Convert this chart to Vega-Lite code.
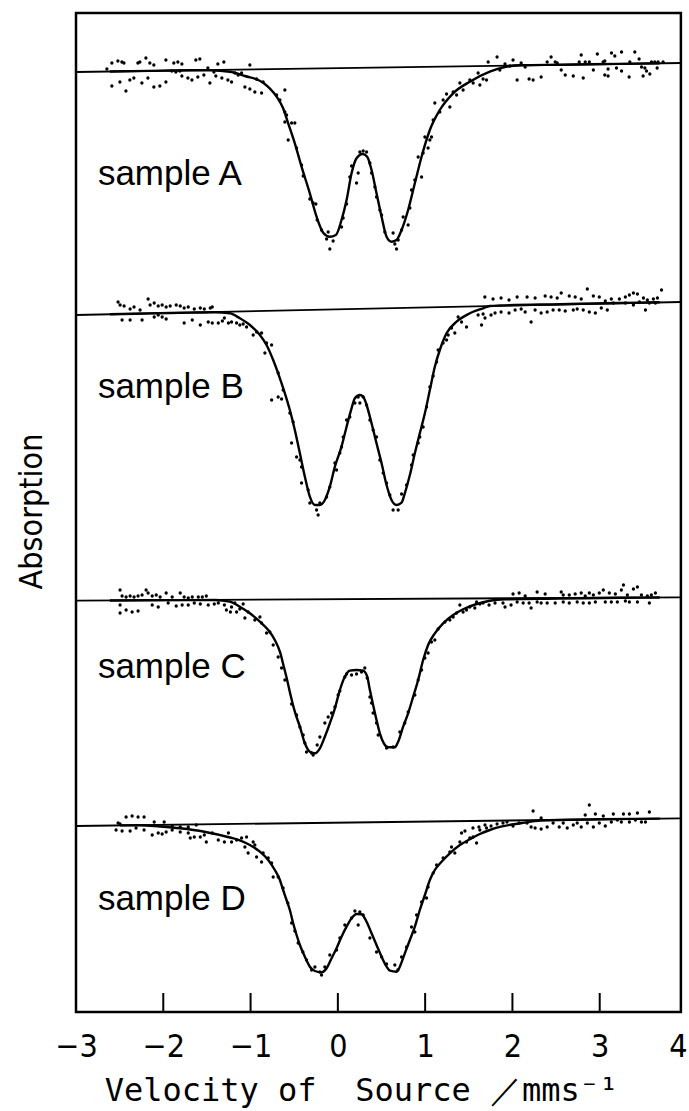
{
"$schema":"https://vega.github.io/schema/vega-lite/v6.json",
"width":611,"height":999,
"autosize":{"type":"none"},
"padding":{"left":76,"top":13,"right":2,"bottom":99},
"background":"white",
"config":{"view":{"stroke":null}},
"datasets":{
"ticks":[{"vel":-2},{"vel":-1},{"vel":0},{"vel":1},{"vel":2},{"vel":3}],
"base":[
{"sample":"A","vel":-3,"abs":5.9},{"sample":"A","vel":3.93,"abs":5.0},
{"sample":"B","vel":-3,"abs":30.2},{"sample":"B","vel":3.93,"abs":28.9},
{"sample":"C","vel":-3,"abs":58.77},{"sample":"C","vel":3.93,"abs":58.43},
{"sample":"D","vel":-3,"abs":81.3},{"sample":"D","vel":3.93,"abs":80.53}],
"labels":[
{"text":"sample A","vel":-2.749,"abs":17.2},
{"text":"sample B","vel":-2.749,"abs":38.5},
{"text":"sample C","vel":-2.749,"abs":66.5},
{"text":"sample D","vel":-2.749,"abs":89.7}],
"fit":[
{"sample":"A","vel":-2.612,"abs":5.85},{"sample":"A","vel":-2.154,"abs":5.79},{"sample":"A","vel":-1.695,"abs":5.73},{"sample":"A","vel":-1.466,"abs":5.74},{"sample":"A","vel":-1.237,"abs":5.87},{"sample":"A","vel":-1.065,"abs":6.30},{"sample":"A","vel":-0.856,"abs":6.97},{"sample":"A","vel":-0.702,"abs":8.37},{"sample":"A","vel":-0.627,"abs":9.53},{"sample":"A","vel":-0.569,"abs":11.03},{"sample":"A","vel":-0.493,"abs":13.03},{"sample":"A","vel":-0.416,"abs":15.37},{"sample":"A","vel":-0.321,"abs":18.03},{"sample":"A","vel":-0.244,"abs":20.37},{"sample":"A","vel":-0.168,"abs":21.97},{"sample":"A","vel":-0.092,"abs":22.37},{"sample":"A","vel":-0.023,"abs":22.2},{"sample":"A","vel":0.042,"abs":20.7},{"sample":"A","vel":0.100,"abs":18.7},{"sample":"A","vel":0.157,"abs":16.03},{"sample":"A","vel":0.214,"abs":14.53},{"sample":"A","vel":0.283,"abs":14.1},{"sample":"A","vel":0.336,"abs":14.37},{"sample":"A","vel":0.386,"abs":15.7},{"sample":"A","vel":0.443,"abs":18.03},{"sample":"A","vel":0.501,"abs":20.37},{"sample":"A","vel":0.558,"abs":22.37},{"sample":"A","vel":0.615,"abs":22.87},{"sample":"A","vel":0.672,"abs":22.7},{"sample":"A","vel":0.730,"abs":21.7},{"sample":"A","vel":0.805,"abs":19.7},{"sample":"A","vel":0.882,"abs":17.03},{"sample":"A","vel":0.959,"abs":14.37},{"sample":"A","vel":1.054,"abs":11.7},{"sample":"A","vel":1.168,"abs":9.7},{"sample":"A","vel":1.321,"abs":8.03},{"sample":"A","vel":1.512,"abs":6.87},{"sample":"A","vel":1.741,"abs":5.87},{"sample":"A","vel":1.913,"abs":5.4},{"sample":"A","vel":2.085,"abs":5.23},{"sample":"A","vel":2.543,"abs":5.17},{"sample":"A","vel":3.230,"abs":5.09},{"sample":"A","vel":3.688,"abs":5.03},
{"sample":"B","vel":-2.612,"abs":30.13},{"sample":"B","vel":-2.154,"abs":30.04},{"sample":"B","vel":-1.695,"abs":29.96},{"sample":"B","vel":-1.409,"abs":29.92},{"sample":"B","vel":-1.237,"abs":30.03},{"sample":"B","vel":-1.123,"abs":30.53},{"sample":"B","vel":-1.008,"abs":31.2},{"sample":"B","vel":-0.893,"abs":32.2},{"sample":"B","vel":-0.817,"abs":33.2},{"sample":"B","vel":-0.741,"abs":34.7},{"sample":"B","vel":-0.664,"abs":36.53},{"sample":"B","vel":-0.607,"abs":38.03},{"sample":"B","vel":-0.550,"abs":39.7},{"sample":"B","vel":-0.493,"abs":41.7},{"sample":"B","vel":-0.435,"abs":44.03},{"sample":"B","vel":-0.378,"abs":46.37},{"sample":"B","vel":-0.321,"abs":48.37},{"sample":"B","vel":-0.263,"abs":49.2},{"sample":"B","vel":-0.206,"abs":49.2},{"sample":"B","vel":-0.149,"abs":48.7},{"sample":"B","vel":-0.092,"abs":47.37},{"sample":"B","vel":-0.034,"abs":45.37},{"sample":"B","vel":0.042,"abs":43.37},{"sample":"B","vel":0.100,"abs":41.37},{"sample":"B","vel":0.157,"abs":39.53},{"sample":"B","vel":0.195,"abs":38.53},{"sample":"B","vel":0.252,"abs":38.2},{"sample":"B","vel":0.290,"abs":38.37},{"sample":"B","vel":0.329,"abs":39.2},{"sample":"B","vel":0.386,"abs":41.03},{"sample":"B","vel":0.443,"abs":43.03},{"sample":"B","vel":0.501,"abs":45.03},{"sample":"B","vel":0.558,"abs":47.2},{"sample":"B","vel":0.615,"abs":48.7},{"sample":"B","vel":0.672,"abs":49.2},{"sample":"B","vel":0.730,"abs":48.97},{"sample":"B","vel":0.767,"abs":48.03},{"sample":"B","vel":0.825,"abs":46.2},{"sample":"B","vel":0.882,"abs":44.03},{"sample":"B","vel":0.939,"abs":42.03},{"sample":"B","vel":0.997,"abs":40.03},{"sample":"B","vel":1.054,"abs":37.7},{"sample":"B","vel":1.111,"abs":35.37},{"sample":"B","vel":1.168,"abs":33.7},{"sample":"B","vel":1.245,"abs":32.03},{"sample":"B","vel":1.360,"abs":30.87},{"sample":"B","vel":1.512,"abs":30.03},{"sample":"B","vel":1.664,"abs":29.53},{"sample":"B","vel":1.741,"abs":29.3},{"sample":"B","vel":1.856,"abs":29.25},{"sample":"B","vel":2.543,"abs":29.12},{"sample":"B","vel":3.230,"abs":29.0},{"sample":"B","vel":3.688,"abs":28.92},
{"sample":"C","vel":-2.612,"abs":58.75},{"sample":"C","vel":-2.154,"abs":58.73},{"sample":"C","vel":-1.695,"abs":58.71},{"sample":"C","vel":-1.409,"abs":58.7},{"sample":"C","vel":-1.237,"abs":58.87},{"sample":"C","vel":-1.123,"abs":59.37},{"sample":"C","vel":-1.008,"abs":60.03},{"sample":"C","vel":-0.893,"abs":60.87},{"sample":"C","vel":-0.798,"abs":61.7},{"sample":"C","vel":-0.722,"abs":62.7},{"sample":"C","vel":-0.664,"abs":63.87},{"sample":"C","vel":-0.619,"abs":65.37},{"sample":"C","vel":-0.581,"abs":66.7},{"sample":"C","vel":-0.542,"abs":68.2},{"sample":"C","vel":-0.493,"abs":69.87},{"sample":"C","vel":-0.435,"abs":71.37},{"sample":"C","vel":-0.378,"abs":73.03},{"sample":"C","vel":-0.321,"abs":73.87},{"sample":"C","vel":-0.263,"abs":74.03},{"sample":"C","vel":-0.206,"abs":73.53},{"sample":"C","vel":-0.149,"abs":72.37},{"sample":"C","vel":-0.092,"abs":71.03},{"sample":"C","vel":-0.034,"abs":69.53},{"sample":"C","vel":0.023,"abs":67.7},{"sample":"C","vel":0.080,"abs":66.37},{"sample":"C","vel":0.137,"abs":65.77},{"sample":"C","vel":0.214,"abs":65.7},{"sample":"C","vel":0.290,"abs":65.77},{"sample":"C","vel":0.336,"abs":66.37},{"sample":"C","vel":0.367,"abs":67.7},{"sample":"C","vel":0.404,"abs":69.2},{"sample":"C","vel":0.443,"abs":70.7},{"sample":"C","vel":0.481,"abs":72.03},{"sample":"C","vel":0.527,"abs":73.03},{"sample":"C","vel":0.576,"abs":73.43},{"sample":"C","vel":0.653,"abs":73.43},{"sample":"C","vel":0.691,"abs":72.87},{"sample":"C","vel":0.748,"abs":71.37},{"sample":"C","vel":0.805,"abs":70.03},{"sample":"C","vel":0.863,"abs":68.37},{"sample":"C","vel":0.920,"abs":66.7},{"sample":"C","vel":0.977,"abs":64.7},{"sample":"C","vel":1.034,"abs":63.2},{"sample":"C","vel":1.111,"abs":62.03},{"sample":"C","vel":1.206,"abs":61.03},{"sample":"C","vel":1.321,"abs":60.2},{"sample":"C","vel":1.435,"abs":59.63},{"sample":"C","vel":1.589,"abs":59.1},{"sample":"C","vel":1.741,"abs":58.77},{"sample":"C","vel":1.913,"abs":58.63},{"sample":"C","vel":2.543,"abs":58.56},{"sample":"C","vel":3.230,"abs":58.48},{"sample":"C","vel":3.688,"abs":58.45},
{"sample":"D","vel":-2.497,"abs":81.24},{"sample":"D","vel":-2.268,"abs":81.22},{"sample":"D","vel":-2.039,"abs":81.35},{"sample":"D","vel":-1.806,"abs":81.53},{"sample":"D","vel":-1.530,"abs":81.87},{"sample":"D","vel":-1.237,"abs":82.45},{"sample":"D","vel":-1.123,"abs":82.73},{"sample":"D","vel":-1.008,"abs":83.2},{"sample":"D","vel":-0.893,"abs":83.87},{"sample":"D","vel":-0.798,"abs":84.7},{"sample":"D","vel":-0.722,"abs":85.7},{"sample":"D","vel":-0.664,"abs":86.7},{"sample":"D","vel":-0.627,"abs":87.7},{"sample":"D","vel":-0.588,"abs":88.7},{"sample":"D","vel":-0.550,"abs":89.7},{"sample":"D","vel":-0.512,"abs":91.03},{"sample":"D","vel":-0.473,"abs":92.2},{"sample":"D","vel":-0.435,"abs":93.2},{"sample":"D","vel":-0.378,"abs":94.37},{"sample":"D","vel":-0.321,"abs":95.37},{"sample":"D","vel":-0.263,"abs":95.8},{"sample":"D","vel":-0.187,"abs":95.93},{"sample":"D","vel":-0.129,"abs":95.53},{"sample":"D","vel":-0.072,"abs":94.53},{"sample":"D","vel":-0.015,"abs":93.53},{"sample":"D","vel":0.042,"abs":92.37},{"sample":"D","vel":0.100,"abs":91.37},{"sample":"D","vel":0.157,"abs":90.53},{"sample":"D","vel":0.214,"abs":90.1},{"sample":"D","vel":0.271,"abs":90.13},{"sample":"D","vel":0.329,"abs":90.87},{"sample":"D","vel":0.386,"abs":92.03},{"sample":"D","vel":0.443,"abs":93.2},{"sample":"D","vel":0.501,"abs":94.37},{"sample":"D","vel":0.558,"abs":95.37},{"sample":"D","vel":0.596,"abs":95.77},{"sample":"D","vel":0.672,"abs":95.87},{"sample":"D","vel":0.710,"abs":95.37},{"sample":"D","vel":0.767,"abs":94.03},{"sample":"D","vel":0.825,"abs":92.7},{"sample":"D","vel":0.882,"abs":91.37},{"sample":"D","vel":0.939,"abs":89.7},{"sample":"D","vel":0.997,"abs":88.2},{"sample":"D","vel":1.054,"abs":86.7},{"sample":"D","vel":1.111,"abs":85.7},{"sample":"D","vel":1.188,"abs":84.87},{"sample":"D","vel":1.283,"abs":84.03},{"sample":"D","vel":1.398,"abs":83.2},{"sample":"D","vel":1.512,"abs":82.63},{"sample":"D","vel":1.627,"abs":82.1},{"sample":"D","vel":1.741,"abs":81.7},{"sample":"D","vel":1.867,"abs":81.37},{"sample":"D","vel":2.096,"abs":81.03},{"sample":"D","vel":2.325,"abs":80.75},{"sample":"D","vel":3.001,"abs":80.63},{"sample":"D","vel":3.688,"abs":80.56}],
"obs":[
{"sample":"A","vel":-2.589,"abs":5.0},{"sample":"A","vel":-2.520,"abs":4.8},{"sample":"A","vel":-2.474,"abs":4.9},{"sample":"A","vel":-2.451,"abs":5.0},{"sample":"A","vel":-2.291,"abs":5.0},{"sample":"A","vel":-2.268,"abs":4.9},{"sample":"A","vel":-2.199,"abs":4.5},{"sample":"A","vel":-2.154,"abs":5.0},{"sample":"A","vel":-2.108,"abs":5.2},{"sample":"A","vel":-1.970,"abs":4.7},{"sample":"A","vel":-1.879,"abs":5.0},{"sample":"A","vel":-1.833,"abs":4.9},{"sample":"A","vel":-1.787,"abs":5.1},{"sample":"A","vel":-1.627,"abs":4.7},{"sample":"A","vel":-1.581,"abs":4.6},{"sample":"A","vel":-1.375,"abs":5.1},{"sample":"A","vel":-1.306,"abs":4.9},{"sample":"A","vel":-1.008,"abs":5.2},
{"sample":"A","vel":-2.646,"abs":5.6},{"sample":"A","vel":-1.902,"abs":5.8},{"sample":"A","vel":-1.856,"abs":5.9},{"sample":"A","vel":-1.810,"abs":5.8},{"sample":"A","vel":-1.489,"abs":5.5},{"sample":"A","vel":-1.420,"abs":5.9},
{"sample":"A","vel":-2.589,"abs":7.3},{"sample":"A","vel":-2.497,"abs":6.9},{"sample":"A","vel":-2.428,"abs":7.8},{"sample":"A","vel":-2.383,"abs":6.7},{"sample":"A","vel":-2.337,"abs":6.5},{"sample":"A","vel":-2.245,"abs":7.0},{"sample":"A","vel":-2.176,"abs":6.5},{"sample":"A","vel":-2.108,"abs":7.4},{"sample":"A","vel":-2.039,"abs":7.3},{"sample":"A","vel":-1.970,"abs":6.9},{"sample":"A","vel":-1.787,"abs":6.3},{"sample":"A","vel":-1.718,"abs":6.5},{"sample":"A","vel":-1.672,"abs":6.7},{"sample":"A","vel":-1.604,"abs":6.4},{"sample":"A","vel":-1.535,"abs":6.2},{"sample":"A","vel":-1.466,"abs":7.0},{"sample":"A","vel":-1.398,"abs":6.3},{"sample":"A","vel":-1.329,"abs":6.5},{"sample":"A","vel":-1.260,"abs":6.7},
{"sample":"A","vel":-1.218,"abs":6.9},{"sample":"A","vel":-1.180,"abs":6.0},{"sample":"A","vel":-1.142,"abs":6.2},{"sample":"A","vel":-1.103,"abs":6.0},{"sample":"A","vel":-1.065,"abs":7.4},{"sample":"A","vel":-1.008,"abs":7.6},{"sample":"A","vel":-0.951,"abs":7.9},{"sample":"A","vel":-0.931,"abs":6.6},{"sample":"A","vel":-0.874,"abs":8.0},{"sample":"A","vel":-0.856,"abs":6.9},{"sample":"A","vel":-0.702,"abs":8.2},{"sample":"A","vel":-0.664,"abs":8.7},{"sample":"A","vel":-0.607,"abs":7.7},{"sample":"A","vel":-0.607,"abs":9.9},{"sample":"A","vel":-0.588,"abs":10.2},{"sample":"A","vel":-0.607,"abs":10.9},{"sample":"A","vel":-0.530,"abs":11.0},{"sample":"A","vel":-0.493,"abs":11.0},{"sample":"A","vel":-0.569,"abs":12.7},{"sample":"A","vel":-0.473,"abs":13.5},{"sample":"A","vel":-0.416,"abs":15.2},{"sample":"A","vel":-0.397,"abs":16.3},{"sample":"A","vel":-0.321,"abs":18.6},{"sample":"A","vel":-0.283,"abs":19.0},{"sample":"A","vel":-0.252,"abs":19.1},{"sample":"A","vel":-0.237,"abs":20.7},{"sample":"A","vel":-0.187,"abs":21.7},{"sample":"A","vel":-0.111,"abs":21.9},{"sample":"A","vel":-0.129,"abs":22.6},{"sample":"A","vel":-0.054,"abs":22.8},{"sample":"A","vel":-0.092,"abs":23.6},{"sample":"A","vel":0.042,"abs":21.4},{"sample":"A","vel":0.061,"abs":20.5},{"sample":"A","vel":0.100,"abs":19.1},{"sample":"A","vel":0.137,"abs":16.4},{"sample":"A","vel":0.157,"abs":15.3},{"sample":"A","vel":0.233,"abs":16.0},{"sample":"A","vel":0.214,"abs":17.0},{"sample":"A","vel":0.252,"abs":13.9},{"sample":"A","vel":0.290,"abs":13.8},{"sample":"A","vel":0.329,"abs":13.9},{"sample":"A","vel":0.367,"abs":15.0},{"sample":"A","vel":0.386,"abs":16.0},{"sample":"A","vel":0.424,"abs":17.4},{"sample":"A","vel":0.443,"abs":18.4},{"sample":"A","vel":0.481,"abs":19.7},{"sample":"A","vel":0.501,"abs":20.2},{"sample":"A","vel":0.538,"abs":21.9},{"sample":"A","vel":0.633,"abs":22.0},{"sample":"A","vel":0.653,"abs":23.1},{"sample":"A","vel":0.672,"abs":23.6},{"sample":"A","vel":0.691,"abs":22.7},{"sample":"A","vel":0.730,"abs":21.7},{"sample":"A","vel":0.748,"abs":20.4},{"sample":"A","vel":0.805,"abs":21.2},{"sample":"A","vel":0.825,"abs":19.5},{"sample":"A","vel":0.844,"abs":17.7},{"sample":"A","vel":0.882,"abs":16.7},{"sample":"A","vel":0.920,"abs":14.4},{"sample":"A","vel":0.959,"abs":16.4},{"sample":"A","vel":0.977,"abs":14.0},{"sample":"A","vel":0.997,"abs":12.4},{"sample":"A","vel":1.034,"abs":13.5},{"sample":"A","vel":1.054,"abs":12.7},{"sample":"A","vel":1.092,"abs":10.7},{"sample":"A","vel":1.073,"abs":12.4},{"sample":"A","vel":1.111,"abs":9.0},{"sample":"A","vel":1.168,"abs":9.9},{"sample":"A","vel":1.206,"abs":8.7},{"sample":"A","vel":1.245,"abs":8.1},{"sample":"A","vel":1.283,"abs":9.4},{"sample":"A","vel":1.321,"abs":7.9},{"sample":"A","vel":1.360,"abs":8.2},{"sample":"A","vel":1.398,"abs":7.0},{"sample":"A","vel":1.435,"abs":7.7},{"sample":"A","vel":1.512,"abs":6.7},{"sample":"A","vel":1.550,"abs":7.0},{"sample":"A","vel":1.607,"abs":6.0},{"sample":"A","vel":1.627,"abs":7.2},{"sample":"A","vel":1.664,"abs":6.6},{"sample":"A","vel":1.703,"abs":6.7},{"sample":"A","vel":1.722,"abs":4.9},
{"sample":"A","vel":1.856,"abs":5.7},{"sample":"A","vel":1.970,"abs":5.3},{"sample":"A","vel":1.824,"abs":4.4},{"sample":"A","vel":1.915,"abs":5.1},{"sample":"A","vel":2.007,"abs":4.7},{"sample":"A","vel":2.100,"abs":5.0},{"sample":"A","vel":2.146,"abs":5.4},{"sample":"A","vel":2.054,"abs":6.7},{"sample":"A","vel":2.191,"abs":6.6},{"sample":"A","vel":2.237,"abs":6.7},{"sample":"A","vel":2.329,"abs":6.4},{"sample":"A","vel":2.398,"abs":4.9},{"sample":"A","vel":2.443,"abs":4.4},{"sample":"A","vel":2.490,"abs":4.9},{"sample":"A","vel":2.513,"abs":5.0},{"sample":"A","vel":2.559,"abs":5.7},{"sample":"A","vel":2.605,"abs":6.2},{"sample":"A","vel":2.697,"abs":6.3},{"sample":"A","vel":2.765,"abs":4.9},{"sample":"A","vel":2.788,"abs":4.2},{"sample":"A","vel":2.811,"abs":6.5},{"sample":"A","vel":2.834,"abs":4.9},{"sample":"A","vel":2.881,"abs":4.9},{"sample":"A","vel":2.927,"abs":5.7},{"sample":"A","vel":2.973,"abs":4.1},
{"sample":"A","vel":3.135,"abs":4.0},{"sample":"A","vel":3.173,"abs":4.3},{"sample":"A","vel":3.250,"abs":3.9},{"sample":"A","vel":3.402,"abs":3.9},{"sample":"A","vel":3.451,"abs":4.6},{"sample":"A","vel":3.039,"abs":4.9},{"sample":"A","vel":3.058,"abs":4.8},{"sample":"A","vel":3.345,"abs":4.9},{"sample":"A","vel":3.593,"abs":4.9},{"sample":"A","vel":3.631,"abs":4.9},{"sample":"A","vel":3.669,"abs":4.9},{"sample":"A","vel":3.726,"abs":4.9},{"sample":"A","vel":3.096,"abs":5.6},{"sample":"A","vel":3.192,"abs":5.5},{"sample":"A","vel":3.250,"abs":5.8},{"sample":"A","vel":3.479,"abs":5.4},{"sample":"A","vel":3.517,"abs":5.5},{"sample":"A","vel":3.536,"abs":5.8},{"sample":"A","vel":3.658,"abs":5.5},{"sample":"A","vel":3.058,"abs":6.2},{"sample":"A","vel":3.096,"abs":6.3},{"sample":"A","vel":3.337,"abs":6.4},{"sample":"A","vel":3.497,"abs":6.3},{"sample":"A","vel":3.574,"abs":6.1},
{"sample":"B","vel":-2.518,"abs":28.9},{"sample":"B","vel":-2.495,"abs":29.2},{"sample":"B","vel":-2.449,"abs":29.3},{"sample":"B","vel":-2.380,"abs":29.6},{"sample":"B","vel":-2.335,"abs":29.4},{"sample":"B","vel":-2.266,"abs":29.7},{"sample":"B","vel":-2.174,"abs":28.6},{"sample":"B","vel":-2.151,"abs":29.2},{"sample":"B","vel":-2.104,"abs":29.0},{"sample":"B","vel":-2.058,"abs":29.3},{"sample":"B","vel":-2.013,"abs":29.2},{"sample":"B","vel":-1.967,"abs":29.4},{"sample":"B","vel":-1.921,"abs":29.3},{"sample":"B","vel":-1.852,"abs":29.2},{"sample":"B","vel":-1.806,"abs":29.3},{"sample":"B","vel":-1.761,"abs":29.5},{"sample":"B","vel":-1.714,"abs":29.4},{"sample":"B","vel":-1.645,"abs":29.6},{"sample":"B","vel":-1.576,"abs":29.5},{"sample":"B","vel":-1.530,"abs":29.6},{"sample":"B","vel":-1.462,"abs":29.5},{"sample":"B","vel":-1.439,"abs":29.4},
{"sample":"B","vel":-2.472,"abs":30.7},{"sample":"B","vel":-2.380,"abs":30.7},{"sample":"B","vel":-2.243,"abs":30.7},{"sample":"B","vel":-2.104,"abs":30.4},{"sample":"B","vel":-2.058,"abs":30.2},{"sample":"B","vel":-2.013,"abs":30.4},{"sample":"B","vel":-1.967,"abs":30.6},{"sample":"B","vel":-1.761,"abs":31.0},{"sample":"B","vel":-1.668,"abs":30.7},{"sample":"B","vel":-1.576,"abs":31.2},{"sample":"B","vel":-1.485,"abs":30.9},{"sample":"B","vel":-1.439,"abs":31.0},{"sample":"B","vel":-1.370,"abs":31.0},{"sample":"B","vel":-1.323,"abs":30.8},{"sample":"B","vel":-1.300,"abs":30.5},{"sample":"B","vel":-1.254,"abs":31.0},
{"sample":"B","vel":-1.218,"abs":30.9},{"sample":"B","vel":-1.160,"abs":31.0},{"sample":"B","vel":-1.123,"abs":31.2},{"sample":"B","vel":-1.085,"abs":31.1},{"sample":"B","vel":-1.046,"abs":31.4},{"sample":"B","vel":-0.970,"abs":32.2},{"sample":"B","vel":-0.931,"abs":31.9},{"sample":"B","vel":-0.874,"abs":32.0},{"sample":"B","vel":-0.836,"abs":34.0},{"sample":"B","vel":-0.817,"abs":33.0},{"sample":"B","vel":-0.759,"abs":33.2},{"sample":"B","vel":-0.684,"abs":36.0},{"sample":"B","vel":-0.627,"abs":37.7},{"sample":"B","vel":-0.550,"abs":40.0},{"sample":"B","vel":-0.512,"abs":40.9},{"sample":"B","vel":-0.530,"abs":43.0},{"sample":"B","vel":-0.473,"abs":44.4},{"sample":"B","vel":-0.435,"abs":44.7},{"sample":"B","vel":-0.416,"abs":45.4},{"sample":"B","vel":-0.416,"abs":47.0},{"sample":"B","vel":-0.340,"abs":47.7},{"sample":"B","vel":-0.321,"abs":49.0},{"sample":"B","vel":-0.244,"abs":49.7},{"sample":"B","vel":-0.226,"abs":50.2},{"sample":"B","vel":-0.206,"abs":49.0},{"sample":"B","vel":-0.129,"abs":48.4},{"sample":"B","vel":-0.092,"abs":47.4},{"sample":"B","vel":-0.034,"abs":45.0},{"sample":"B","vel":-0.015,"abs":45.7},{"sample":"B","vel":0.023,"abs":44.0},{"sample":"B","vel":0.042,"abs":43.4},{"sample":"B","vel":0.061,"abs":42.4},{"sample":"B","vel":0.100,"abs":40.7},{"sample":"B","vel":0.137,"abs":40.4},{"sample":"B","vel":0.195,"abs":39.0},{"sample":"B","vel":0.252,"abs":39.0},{"sample":"B","vel":0.233,"abs":38.4},{"sample":"B","vel":0.290,"abs":38.4},{"sample":"B","vel":0.329,"abs":39.2},{"sample":"B","vel":0.367,"abs":40.7},{"sample":"B","vel":0.404,"abs":41.7},{"sample":"B","vel":0.443,"abs":42.4},{"sample":"B","vel":0.481,"abs":44.7},{"sample":"B","vel":0.519,"abs":46.0},{"sample":"B","vel":0.558,"abs":47.0},{"sample":"B","vel":0.596,"abs":48.2},{"sample":"B","vel":0.633,"abs":49.7},{"sample":"B","vel":0.691,"abs":49.7},{"sample":"B","vel":0.730,"abs":48.1},{"sample":"B","vel":0.787,"abs":47.2},{"sample":"B","vel":0.844,"abs":45.2},{"sample":"B","vel":0.863,"abs":44.2},{"sample":"B","vel":0.920,"abs":43.0},{"sample":"B","vel":0.939,"abs":42.4},{"sample":"B","vel":0.977,"abs":41.4},{"sample":"B","vel":1.016,"abs":39.4},{"sample":"B","vel":1.054,"abs":37.4},{"sample":"B","vel":1.092,"abs":36.3},{"sample":"B","vel":1.131,"abs":34.9},{"sample":"B","vel":1.149,"abs":33.7},{"sample":"B","vel":1.206,"abs":33.0},{"sample":"B","vel":1.245,"abs":32.7},{"sample":"B","vel":1.264,"abs":32.2},{"sample":"B","vel":1.302,"abs":31.5},{"sample":"B","vel":1.340,"abs":32.0},{"sample":"B","vel":1.378,"abs":30.4},{"sample":"B","vel":1.417,"abs":30.9},{"sample":"B","vel":1.474,"abs":31.4},{"sample":"B","vel":1.607,"abs":30.2},{"sample":"B","vel":1.664,"abs":30.1},{"sample":"B","vel":1.646,"abs":31.2},{"sample":"B","vel":1.684,"abs":28.4},
{"sample":"B","vel":-0.759,"abs":38.7},{"sample":"B","vel":-0.684,"abs":38.4},{"sample":"B","vel":-0.645,"abs":38.6},
{"sample":"B","vel":1.778,"abs":28.6},{"sample":"B","vel":1.870,"abs":28.5},{"sample":"B","vel":1.961,"abs":28.7},{"sample":"B","vel":2.054,"abs":28.4},{"sample":"B","vel":2.168,"abs":28.4},{"sample":"B","vel":2.260,"abs":28.5},{"sample":"B","vel":2.375,"abs":28.3},{"sample":"B","vel":2.443,"abs":28.4},{"sample":"B","vel":2.513,"abs":28.5},{"sample":"B","vel":2.559,"abs":28.0},{"sample":"B","vel":2.651,"abs":28.3},{"sample":"B","vel":2.719,"abs":28.4},{"sample":"B","vel":2.788,"abs":28.6},{"sample":"B","vel":2.858,"abs":27.6},{"sample":"B","vel":2.927,"abs":28.3},{"sample":"B","vel":2.995,"abs":28.4},{"sample":"B","vel":3.064,"abs":28.8},{"sample":"B","vel":3.133,"abs":28.6},{"sample":"B","vel":3.225,"abs":28.6},{"sample":"B","vel":3.294,"abs":28.4},{"sample":"B","vel":3.340,"abs":28.2},{"sample":"B","vel":3.386,"abs":28.0},{"sample":"B","vel":3.432,"abs":28.1},{"sample":"B","vel":3.501,"abs":28.5},{"sample":"B","vel":3.546,"abs":28.7},{"sample":"B","vel":3.615,"abs":28.6},{"sample":"B","vel":3.661,"abs":28.5},{"sample":"B","vel":3.708,"abs":27.7},
{"sample":"B","vel":1.686,"abs":30.5},{"sample":"B","vel":1.755,"abs":30.2},{"sample":"B","vel":1.801,"abs":30.0},{"sample":"B","vel":1.870,"abs":29.9},{"sample":"B","vel":1.961,"abs":30.0},{"sample":"B","vel":2.031,"abs":29.7},{"sample":"B","vel":2.100,"abs":29.6},{"sample":"B","vel":2.146,"abs":29.9},{"sample":"B","vel":2.214,"abs":30.9},{"sample":"B","vel":2.260,"abs":29.7},{"sample":"B","vel":2.329,"abs":30.0},{"sample":"B","vel":2.398,"abs":29.9},{"sample":"B","vel":2.466,"abs":29.7},{"sample":"B","vel":2.536,"abs":29.7},{"sample":"B","vel":2.605,"abs":29.8},{"sample":"B","vel":2.697,"abs":29.7},{"sample":"B","vel":2.742,"abs":29.6},{"sample":"B","vel":2.811,"abs":29.7},{"sample":"B","vel":2.881,"abs":29.9},{"sample":"B","vel":2.950,"abs":30.0},{"sample":"B","vel":3.018,"abs":29.5},{"sample":"B","vel":3.087,"abs":29.7},{"sample":"B","vel":3.156,"abs":29.0},{"sample":"B","vel":3.294,"abs":29.0},{"sample":"B","vel":3.386,"abs":29.2},{"sample":"B","vel":3.455,"abs":28.9},{"sample":"B","vel":3.524,"abs":29.7},{"sample":"B","vel":3.569,"abs":29.0},{"sample":"B","vel":3.638,"abs":29.0},
{"sample":"C","vel":-2.495,"abs":57.7},{"sample":"C","vel":-2.472,"abs":58.3},{"sample":"C","vel":-2.426,"abs":58.4},{"sample":"C","vel":-2.380,"abs":58.3},{"sample":"C","vel":-2.335,"abs":58.4},{"sample":"C","vel":-2.289,"abs":58.3},{"sample":"C","vel":-2.243,"abs":58.2},{"sample":"C","vel":-2.197,"abs":57.7},{"sample":"C","vel":-2.174,"abs":58.0},{"sample":"C","vel":-2.127,"abs":58.3},{"sample":"C","vel":-2.081,"abs":58.2},{"sample":"C","vel":-2.036,"abs":58.4},{"sample":"C","vel":-1.967,"abs":58.0},{"sample":"C","vel":-1.898,"abs":58.4},{"sample":"C","vel":-1.806,"abs":58.0},{"sample":"C","vel":-1.761,"abs":58.4},{"sample":"C","vel":-1.714,"abs":58.5},{"sample":"C","vel":-1.668,"abs":58.4},{"sample":"C","vel":-1.599,"abs":58.4},{"sample":"C","vel":-1.553,"abs":58.4},{"sample":"C","vel":-1.507,"abs":58.3},
{"sample":"C","vel":-2.495,"abs":59.2},{"sample":"C","vel":-2.495,"abs":60.0},{"sample":"C","vel":-2.426,"abs":59.7},{"sample":"C","vel":-2.357,"abs":59.9},{"sample":"C","vel":-2.289,"abs":59.8},{"sample":"C","vel":-2.127,"abs":59.2},{"sample":"C","vel":-2.058,"abs":59.4},{"sample":"C","vel":-1.944,"abs":59.0},{"sample":"C","vel":-1.852,"abs":59.3},{"sample":"C","vel":-1.784,"abs":59.2},{"sample":"C","vel":-1.714,"abs":59.2},{"sample":"C","vel":-1.645,"abs":59.0},{"sample":"C","vel":-1.576,"abs":59.1},{"sample":"C","vel":-1.485,"abs":59.2},{"sample":"C","vel":-1.416,"abs":59.1},{"sample":"C","vel":-1.370,"abs":59.0},{"sample":"C","vel":-1.300,"abs":59.2},{"sample":"C","vel":-1.277,"abs":59.7},{"sample":"C","vel":-1.231,"abs":59.9},
{"sample":"C","vel":-1.218,"abs":59.4},{"sample":"C","vel":-1.180,"abs":59.0},{"sample":"C","vel":-1.160,"abs":59.9},{"sample":"C","vel":-1.123,"abs":59.6},{"sample":"C","vel":-1.085,"abs":59.1},{"sample":"C","vel":-1.065,"abs":60.5},{"sample":"C","vel":-1.028,"abs":59.9},{"sample":"C","vel":-0.951,"abs":60.7},{"sample":"C","vel":-0.893,"abs":60.4},{"sample":"C","vel":-0.874,"abs":61.0},{"sample":"C","vel":-0.817,"abs":62.0},{"sample":"C","vel":-0.779,"abs":61.9},{"sample":"C","vel":-0.741,"abs":63.2},{"sample":"C","vel":-0.684,"abs":64.4},{"sample":"C","vel":-0.645,"abs":65.5},{"sample":"C","vel":-0.607,"abs":66.7},{"sample":"C","vel":-0.530,"abs":69.1},{"sample":"C","vel":-0.473,"abs":70.2},{"sample":"C","vel":-0.435,"abs":71.4},{"sample":"C","vel":-0.397,"abs":72.2},{"sample":"C","vel":-0.378,"abs":73.0},{"sample":"C","vel":-0.359,"abs":73.9},{"sample":"C","vel":-0.301,"abs":74.0},{"sample":"C","vel":-0.283,"abs":74.2},{"sample":"C","vel":-0.237,"abs":73.2},{"sample":"C","vel":-0.206,"abs":72.4},{"sample":"C","vel":-0.149,"abs":71.0},{"sample":"C","vel":-0.111,"abs":70.4},{"sample":"C","vel":-0.072,"abs":70.0},{"sample":"C","vel":-0.034,"abs":69.4},{"sample":"C","vel":0.003,"abs":68.2},{"sample":"C","vel":0.023,"abs":67.8},{"sample":"C","vel":0.080,"abs":66.4},{"sample":"C","vel":0.100,"abs":66.1},{"sample":"C","vel":0.157,"abs":66.2},{"sample":"C","vel":0.214,"abs":66.1},{"sample":"C","vel":0.271,"abs":65.9},{"sample":"C","vel":0.309,"abs":65.5},{"sample":"C","vel":0.336,"abs":66.5},{"sample":"C","vel":0.367,"abs":68.4},{"sample":"C","vel":0.386,"abs":69.0},{"sample":"C","vel":0.404,"abs":70.0},{"sample":"C","vel":0.443,"abs":71.0},{"sample":"C","vel":0.462,"abs":72.2},{"sample":"C","vel":0.558,"abs":73.5},{"sample":"C","vel":0.633,"abs":73.4},{"sample":"C","vel":0.710,"abs":71.9},{"sample":"C","vel":0.767,"abs":71.0},{"sample":"C","vel":0.805,"abs":69.9},{"sample":"C","vel":0.882,"abs":68.2},{"sample":"C","vel":0.920,"abs":66.7},{"sample":"C","vel":0.959,"abs":65.7},{"sample":"C","vel":0.997,"abs":64.5},{"sample":"C","vel":1.034,"abs":64.0},{"sample":"C","vel":1.073,"abs":62.9},{"sample":"C","vel":1.111,"abs":62.7},{"sample":"C","vel":1.149,"abs":61.6},{"sample":"C","vel":1.226,"abs":60.9},{"sample":"C","vel":1.283,"abs":60.7},{"sample":"C","vel":1.321,"abs":60.4},{"sample":"C","vel":1.360,"abs":60.0},{"sample":"C","vel":1.398,"abs":59.2},{"sample":"C","vel":1.435,"abs":59.9},{"sample":"C","vel":1.474,"abs":59.7},{"sample":"C","vel":1.512,"abs":59.4},{"sample":"C","vel":1.569,"abs":59.5},{"sample":"C","vel":1.589,"abs":58.9},{"sample":"C","vel":1.627,"abs":59.1},{"sample":"C","vel":1.664,"abs":59.0},
{"sample":"C","vel":2.007,"abs":58.1},{"sample":"C","vel":2.077,"abs":58.0},{"sample":"C","vel":2.146,"abs":58.3},{"sample":"C","vel":2.283,"abs":57.9},{"sample":"C","vel":2.375,"abs":58.1},{"sample":"C","vel":2.559,"abs":57.9},{"sample":"C","vel":2.582,"abs":58.2},{"sample":"C","vel":2.651,"abs":58.2},{"sample":"C","vel":2.719,"abs":58.1},{"sample":"C","vel":2.788,"abs":58.0},{"sample":"C","vel":2.834,"abs":58.3},{"sample":"C","vel":2.881,"abs":58.0},{"sample":"C","vel":2.927,"abs":58.2},{"sample":"C","vel":2.995,"abs":58.0},{"sample":"C","vel":3.041,"abs":57.7},{"sample":"C","vel":3.110,"abs":58.0},{"sample":"C","vel":3.179,"abs":58.1},{"sample":"C","vel":3.248,"abs":57.7},{"sample":"C","vel":3.272,"abs":57.2},{"sample":"C","vel":3.317,"abs":58.2},{"sample":"C","vel":3.386,"abs":57.6},{"sample":"C","vel":3.432,"abs":57.4},{"sample":"C","vel":3.478,"abs":58.2},{"sample":"C","vel":3.546,"abs":58.3},{"sample":"C","vel":3.592,"abs":58.2},{"sample":"C","vel":3.638,"abs":58.0},
{"sample":"C","vel":1.732,"abs":59.2},{"sample":"C","vel":1.801,"abs":59.0},{"sample":"C","vel":1.892,"abs":59.0},{"sample":"C","vel":1.915,"abs":59.4},{"sample":"C","vel":1.984,"abs":59.2},{"sample":"C","vel":2.054,"abs":58.9},{"sample":"C","vel":2.123,"abs":59.0},{"sample":"C","vel":2.191,"abs":59.0},{"sample":"C","vel":2.214,"abs":59.5},{"sample":"C","vel":2.283,"abs":58.9},{"sample":"C","vel":2.329,"abs":59.0},{"sample":"C","vel":2.398,"abs":59.0},{"sample":"C","vel":2.490,"abs":59.0},{"sample":"C","vel":2.582,"abs":58.9},{"sample":"C","vel":2.651,"abs":59.0},{"sample":"C","vel":2.742,"abs":58.9},{"sample":"C","vel":2.811,"abs":59.0},{"sample":"C","vel":2.881,"abs":59.0},{"sample":"C","vel":2.950,"abs":58.9},{"sample":"C","vel":3.064,"abs":58.9},{"sample":"C","vel":3.133,"abs":58.9},{"sample":"C","vel":3.202,"abs":58.9},{"sample":"C","vel":3.294,"abs":58.8},{"sample":"C","vel":3.340,"abs":58.9},{"sample":"C","vel":3.432,"abs":58.9},{"sample":"C","vel":3.569,"abs":59.0},
{"sample":"D","vel":-2.518,"abs":81.0},{"sample":"D","vel":-2.495,"abs":81.1},{"sample":"D","vel":-2.426,"abs":80.4},{"sample":"D","vel":-2.357,"abs":80.3},{"sample":"D","vel":-2.289,"abs":80.4},{"sample":"D","vel":-2.220,"abs":80.4},{"sample":"D","vel":-2.104,"abs":80.9},{"sample":"D","vel":-1.990,"abs":80.9},{"sample":"D","vel":-1.898,"abs":81.3},{"sample":"D","vel":-1.806,"abs":81.4},{"sample":"D","vel":-1.714,"abs":81.4},{"sample":"D","vel":-1.622,"abs":81.2},
{"sample":"D","vel":-2.541,"abs":81.7},{"sample":"D","vel":-2.472,"abs":81.8},{"sample":"D","vel":-2.380,"abs":81.8},{"sample":"D","vel":-2.312,"abs":81.5},{"sample":"D","vel":-2.220,"abs":81.7},{"sample":"D","vel":-2.127,"abs":82.2},{"sample":"D","vel":-2.058,"abs":82.0},{"sample":"D","vel":-2.013,"abs":82.1},{"sample":"D","vel":-1.967,"abs":81.9},{"sample":"D","vel":-1.898,"abs":81.7},{"sample":"D","vel":-1.806,"abs":81.9},{"sample":"D","vel":-1.714,"abs":82.0},{"sample":"D","vel":-1.691,"abs":82.5},{"sample":"D","vel":-1.645,"abs":82.4},{"sample":"D","vel":-1.576,"abs":82.4},{"sample":"D","vel":-1.530,"abs":82.2},{"sample":"D","vel":-1.507,"abs":82.9},{"sample":"D","vel":-1.439,"abs":82.0},{"sample":"D","vel":-1.370,"abs":82.7},{"sample":"D","vel":-1.300,"abs":82.9},{"sample":"D","vel":-1.254,"abs":82.0},
{"sample":"D","vel":-1.218,"abs":82.9},{"sample":"D","vel":-1.160,"abs":82.7},{"sample":"D","vel":-1.103,"abs":82.5},{"sample":"D","vel":-1.046,"abs":82.4},{"sample":"D","vel":-1.065,"abs":83.4},{"sample":"D","vel":-1.028,"abs":84.0},{"sample":"D","vel":-0.970,"abs":82.9},{"sample":"D","vel":-0.951,"abs":83.2},{"sample":"D","vel":-0.931,"abs":84.4},{"sample":"D","vel":-0.874,"abs":84.9},{"sample":"D","vel":-0.856,"abs":84.0},{"sample":"D","vel":-0.798,"abs":84.5},{"sample":"D","vel":-0.759,"abs":85.0},{"sample":"D","vel":-0.741,"abs":86.4},{"sample":"D","vel":-0.684,"abs":86.4},{"sample":"D","vel":-0.627,"abs":87.5},{"sample":"D","vel":-0.573,"abs":89.0},{"sample":"D","vel":-0.530,"abs":91.0},{"sample":"D","vel":-0.493,"abs":91.8},{"sample":"D","vel":-0.455,"abs":93.0},{"sample":"D","vel":-0.401,"abs":93.9},{"sample":"D","vel":-0.359,"abs":94.7},{"sample":"D","vel":-0.301,"abs":95.7},{"sample":"D","vel":-0.263,"abs":95.4},{"sample":"D","vel":-0.206,"abs":95.9},{"sample":"D","vel":-0.187,"abs":96.2},{"sample":"D","vel":-0.149,"abs":95.4},{"sample":"D","vel":-0.092,"abs":94.2},{"sample":"D","vel":-0.015,"abs":93.7},{"sample":"D","vel":0.023,"abs":92.5},{"sample":"D","vel":0.080,"abs":91.2},{"sample":"D","vel":0.157,"abs":90.5},{"sample":"D","vel":0.195,"abs":89.8},{"sample":"D","vel":0.252,"abs":89.9},{"sample":"D","vel":0.233,"abs":91.2},{"sample":"D","vel":0.290,"abs":90.2},{"sample":"D","vel":0.367,"abs":92.5},{"sample":"D","vel":0.443,"abs":93.9},{"sample":"D","vel":0.501,"abs":94.4},{"sample":"D","vel":0.558,"abs":95.1},{"sample":"D","vel":0.653,"abs":95.2},{"sample":"D","vel":0.687,"abs":95.7},{"sample":"D","vel":0.730,"abs":94.4},{"sample":"D","vel":0.787,"abs":93.4},{"sample":"D","vel":0.844,"abs":91.4},{"sample":"D","vel":0.882,"abs":91.9},{"sample":"D","vel":0.902,"abs":90.2},{"sample":"D","vel":0.959,"abs":88.9},{"sample":"D","vel":1.016,"abs":88.5},{"sample":"D","vel":1.034,"abs":87.4},{"sample":"D","vel":1.092,"abs":86.0},{"sample":"D","vel":1.131,"abs":85.2},{"sample":"D","vel":1.206,"abs":84.5},{"sample":"D","vel":1.283,"abs":83.9},{"sample":"D","vel":1.302,"abs":83.4},{"sample":"D","vel":1.340,"abs":84.0},{"sample":"D","vel":1.398,"abs":82.9},{"sample":"D","vel":1.417,"abs":82.0},{"sample":"D","vel":1.474,"abs":82.9},{"sample":"D","vel":1.512,"abs":82.5},{"sample":"D","vel":1.589,"abs":83.0},{"sample":"D","vel":1.627,"abs":81.7},{"sample":"D","vel":1.703,"abs":81.5},
{"sample":"D","vel":2.237,"abs":79.8},{"sample":"D","vel":2.329,"abs":80.5},{"sample":"D","vel":2.834,"abs":80.2},{"sample":"D","vel":2.881,"abs":79.2},{"sample":"D","vel":2.950,"abs":80.1},{"sample":"D","vel":3.041,"abs":80.3},{"sample":"D","vel":3.156,"abs":80.1},{"sample":"D","vel":3.272,"abs":80.1},{"sample":"D","vel":3.340,"abs":80.1},{"sample":"D","vel":3.432,"abs":80.0},{"sample":"D","vel":3.569,"abs":79.9},
{"sample":"D","vel":1.456,"abs":81.8},{"sample":"D","vel":1.548,"abs":81.5},{"sample":"D","vel":1.616,"abs":81.4},{"sample":"D","vel":1.686,"abs":81.2},{"sample":"D","vel":1.755,"abs":81.3},{"sample":"D","vel":1.824,"abs":81.1},{"sample":"D","vel":1.892,"abs":81.0},{"sample":"D","vel":1.938,"abs":80.9},{"sample":"D","vel":2.007,"abs":81.3},{"sample":"D","vel":2.077,"abs":81.0},{"sample":"D","vel":2.168,"abs":81.0},{"sample":"D","vel":2.214,"abs":81.4},{"sample":"D","vel":2.260,"abs":81.5},{"sample":"D","vel":2.329,"abs":81.6},{"sample":"D","vel":2.398,"abs":81.4},{"sample":"D","vel":2.466,"abs":81.0},{"sample":"D","vel":2.536,"abs":81.4},{"sample":"D","vel":2.582,"abs":81.0},{"sample":"D","vel":2.628,"abs":81.5},{"sample":"D","vel":2.697,"abs":81.2},{"sample":"D","vel":2.742,"abs":81.0},{"sample":"D","vel":2.788,"abs":81.4},{"sample":"D","vel":2.858,"abs":81.0},{"sample":"D","vel":2.927,"abs":81.4},{"sample":"D","vel":2.995,"abs":81.0},{"sample":"D","vel":3.064,"abs":81.3},{"sample":"D","vel":3.133,"abs":80.9},{"sample":"D","vel":3.202,"abs":80.7},{"sample":"D","vel":3.248,"abs":80.9},{"sample":"D","vel":3.340,"abs":80.9},{"sample":"D","vel":3.409,"abs":80.7},{"sample":"D","vel":3.478,"abs":80.9},{"sample":"D","vel":3.524,"abs":80.9},{"sample":"D","vel":1.548,"abs":82.4}]
},
"layer":[
{"data":{"name":"base"},"mark":{"type":"line","color":"black","strokeWidth":1.8},
"encoding":{
"x":{"field":"vel","type":"quantitative","scale":{"domain":[-3,4],"nice":false,"zero":false},
"axis":{"values":[-3,-2,-1,0,1,2,3,4],"format":"d","ticks":false,"domain":false,"grid":false,"labelFlush":false,"labelOverlap":false,
"labelFont":"DejaVu Sans Condensed, sans-serif","labelFontSize":32,"labelColor":"black","labelPadding":19,
"labelAlign":{"condition":{"test":"datum.value == 4","value":"right"},"value":"center"},
"title":"Velocity\u00a0of\u00a0\u00a0Source\u00a0\uff0fmms\u207b\u00b9","titleFont":"DejaVu Sans Mono, monospace","titleFontSize":32,"titleFontWeight":"normal","titleColor":"black",
"titleX":285,"titleY":88,"titleBaseline":"alphabetic","titleAlign":"center"}},
"y":{"field":"abs","type":"quantitative","scale":{"domain":[0,99.9],"reverse":true,"nice":false,"zero":false},
"axis":{"ticks":false,"labels":false,"domain":false,"grid":false,"title":"Absorption","titleFont":"DejaVu Sans Condensed, sans-serif","titleFontSize":32,"titleFontWeight":"normal","titleColor":"black",
"titleX":-35,"titleY":498,"titleAngle":-90,"titleBaseline":"alphabetic","titleAlign":"center"}},
"detail":{"field":"sample"}}},
{"data":{"name":"fit"},"mark":{"type":"line","color":"black","strokeWidth":2.4,"interpolate":"monotone"},
"encoding":{"x":{"field":"vel","type":"quantitative"},"y":{"field":"abs","type":"quantitative"},"detail":{"field":"sample"}}},
{"data":{"name":"obs"},"mark":{"type":"circle","color":"black","size":11,"opacity":1},
"encoding":{"x":{"field":"vel","type":"quantitative"},"y":{"field":"abs","type":"quantitative"}}},
{"data":{"name":"ticks"},"mark":{"type":"rule","color":"black","strokeWidth":2},
"encoding":{"x":{"field":"vel","type":"quantitative"},"y":{"datum":98.0},"y2":{"datum":99.9}}},
{"data":{"name":"labels"},"mark":{"type":"text","align":"left","baseline":"alphabetic","font":"Liberation Sans, Arial, sans-serif","fontSize":35,"color":"black"},
"encoding":{"x":{"field":"vel","type":"quantitative"},"y":{"field":"abs","type":"quantitative"},"text":{"field":"text"}}},
{"data":{"values":[{}]},"mark":{"type":"rect","fill":"transparent","stroke":"black","strokeWidth":2.5},
"encoding":{"x":{"datum":-3},"x2":{"datum":3.93},"y":{"datum":0},"y2":{"datum":99.9}}}
]
}
